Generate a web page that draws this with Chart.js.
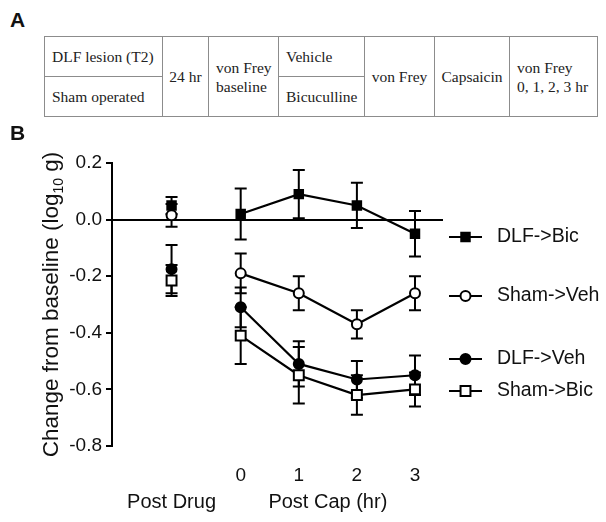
<!DOCTYPE html>
<html>
<head>
<meta charset="utf-8">
<script src="https://cdn.jsdelivr.net/npm/chart.js@4.4.1/dist/chart.umd.min.js"></script>
<style>
  body { margin: 0; background: #fff; width: 606px; height: 522px; overflow: hidden; position: relative;
         font-family: "Liberation Sans", Arial, sans-serif; }
  #wrap { position: absolute; left: 0; top: 120px; width: 606px; height: 402px; }
  .panel { position: absolute; font-weight: bold; font-size: 21px; color: #111; }
  #labelA { left: 10px; top: 8px; }
  #labelB { left: 10px; top: 121px; }
  table { position: absolute; left: 44px; top: 36px; width: 554px; height: 81px; table-layout: fixed;
          border-collapse: collapse; font-family: "Liberation Serif", "Times New Roman", serif;
          font-size: 15.5px; color: #222; }
  td { border: 1.5px solid #8c8c8c; padding: 0 7px; line-height: 19px; vertical-align: middle;
       white-space: nowrap; height: 39px; }
  td.c { text-align: center; padding: 0; }
</style>
</head>
<body>
<div id="wrap"><canvas id="chart" width="606" height="402"></canvas></div>
<div class="panel" id="labelA">A</div>
<div class="panel" id="labelB">B</div>
<table>
  <colgroup>
    <col style="width:118px"><col style="width:46px"><col style="width:70px"><col style="width:86px">
    <col style="width:70px"><col style="width:75px"><col style="width:88px">
  </colgroup>
  <tr>
    <td>DLF lesion (T2)</td>
    <td class="c" rowspan="2">24 hr</td>
    <td rowspan="2">von Frey<br>baseline</td>
    <td>Vehicle</td>
    <td class="c" rowspan="2">von Frey</td>
    <td class="c" rowspan="2">Capsaicin</td>
    <td rowspan="2">von Frey<br>0, 1, 2, 3 hr</td>
  </tr>
  <tr>
    <td>Sham operated</td>
    <td>Bicuculline</td>
  </tr>
</table>

<script>
// data
const categories = ['Post Drug', '0', '1', '2', '3'];
const xValues = [-1.19, 0, 1, 2, 3];   // Post Drug sits left of the time axis
const xTicks = [0, 1, 2, 3];
const yTicks = [0.2, 0.0, -0.2, -0.4, -0.6, -0.8];

const seriesNames = ['DLF->Bic', 'Sham->Veh', 'DLF->Veh', 'Sham->Bic'];
const dlfBic = [0.05, 0.02, 0.09, 0.05, -0.05];
const dlfBicErr = [0.03, 0.09, 0.085, 0.08, 0.08];
const shamVeh = [0.015, -0.19, -0.26, -0.37, -0.26];
const shamVehErr = [0.04, 0.07, 0.06, 0.05, 0.06];
const dlfVeh = [-0.175, -0.31, -0.51, -0.565, -0.55];
const dlfVehErr = [0.085, 0.07, 0.08, 0.065, 0.07];
const shamBic = [-0.215, -0.41, -0.55, -0.62, -0.60];
const shamBicErr = [0.055, 0.10, 0.10, 0.07, 0.06];

const values = [dlfBic, shamVeh, dlfVeh, shamBic];
const errors = [dlfBicErr, shamVehErr, dlfVehErr, shamBicErr];

// marker looks
const styles = [
  { pointStyle: 'rect', bg: '#000', r: 6 },
  { pointStyle: 'circle', bg: '#fff', r: 5 },
  { pointStyle: 'circle', bg: '#000', r: 5 },
  { pointStyle: 'rect', bg: '#fff', r: 7 }
];
const legendY = [117, 176, 239, 271];
const FONT = '"Liberation Sans", Arial, sans-serif';

const datasets = seriesNames.map((name, i) => ({
  label: name,
  data: values[i].map((v, j) => ({ x: xValues[j], y: v })),
  borderColor: '#000',
  borderWidth: 2.2,
  pointStyle: styles[i].pointStyle,
  pointRadius: styles[i].r,
  pointBackgroundColor: styles[i].bg,
  pointBorderColor: '#000',
  pointBorderWidth: 2,
  tension: 0,
  // no line between Post Drug and the 0 hr point
  segment: { borderColor: c => c.p0DataIndex === 0 ? 'rgba(0,0,0,0)' : '#000' }
}));

const errorBars = {
  id: 'errorBars',
  beforeDatasetsDraw(chart) {
    const { ctx } = chart;
    const y = chart.scales.y;
    ctx.save();
    ctx.strokeStyle = '#000';
    ctx.lineWidth = 2;
    chart.data.datasets.forEach((ds, di) => {
      const meta = chart.getDatasetMeta(di);
      errors[di].forEach((e, i) => {
        const pt = meta.data[i];
        const v = values[di][i];
        const top = y.getPixelForValue(v + e);
        const bot = y.getPixelForValue(v - e);
        ctx.beginPath();
        ctx.moveTo(pt.x, top); ctx.lineTo(pt.x, bot);
        ctx.moveTo(pt.x - 6, top); ctx.lineTo(pt.x + 6, top);
        ctx.moveTo(pt.x - 6, bot); ctx.lineTo(pt.x + 6, bot);
        ctx.stroke();
      });
    });
    ctx.restore();
  }
};

const extras = {
  id: 'extras',
  afterDraw(chart) {
    const { ctx } = chart;
    const x = chart.scales.x;
    const area = chart.chartArea;
    ctx.save();
    ctx.fillStyle = '#111';

    // legend on the right
    seriesNames.forEach((name, i) => {
      const ly = legendY[i];
      ctx.strokeStyle = '#000';
      ctx.lineWidth = 2.2;
      ctx.beginPath(); ctx.moveTo(449, ly); ctx.lineTo(482, ly); ctx.stroke();
      ctx.fillStyle = styles[i].bg;
      ctx.lineWidth = 2;
      Chart.helpers.drawPoint(ctx, { pointStyle: styles[i].pointStyle, radius: styles[i].r, rotation: 0, borderWidth: 2 }, 465.5, ly);
      ctx.fillStyle = '#111';
      ctx.font = '19.5px ' + FONT;
      ctx.textAlign = 'left';
      ctx.textBaseline = 'middle';
      ctx.fillText(name, 497, ly);
    });

    // group labels under the x axis
    ctx.font = '20px ' + FONT;
    ctx.textAlign = 'center';
    ctx.textBaseline = 'middle';
    ctx.fillText(categories[0], x.getPixelForValue(xValues[0]), 382);
    ctx.fillText('Post Cap (hr)', (x.getPixelForValue(xValues[1]) + x.getPixelForValue(xValues[4])) / 2, 382);

    // y title with subscript
    const big = '22.5px ' + FONT, small = '14px ' + FONT;
    const p1 = 'Change from baseline (log', p2 = '10', p3 = ' g)';
    ctx.font = big; const w1 = ctx.measureText(p1).width, w3 = ctx.measureText(p3).width;
    ctx.font = small; const w2 = ctx.measureText(p2).width;
    const total = w1 + w2 + w3;
    ctx.translate(58, (area.top + area.bottom) / 2);
    ctx.rotate(-Math.PI / 2);
    ctx.textAlign = 'left';
    ctx.textBaseline = 'alphabetic';
    let sx = -total / 2;
    ctx.font = big; ctx.fillText(p1, sx, 0); sx += w1;
    ctx.font = small; ctx.fillText(p2, sx, 5); sx += w2;
    ctx.font = big; ctx.fillText(p3, sx, 0);
    ctx.restore();
  }
};

new Chart(document.getElementById('chart'), {
  type: 'line',
  data: { datasets },
  options: {
    responsive: false,
    animation: false,
    layout: { padding: { left: 0, right: 163, top: 43, bottom: 0 } },
    plugins: { legend: { display: false }, tooltip: { enabled: false } },
    scales: {
      x: {
        type: 'linear',
        min: -2.215,
        max: 3.482,
        afterBuildTicks: s => { s.ticks = xTicks.map(v => ({ value: v })); },
        afterFit: s => { s.height = 76; },
        grid: { display: false, drawTicks: false },
        border: { display: false },
        ticks: { color: '#111', font: { size: 19, family: FONT }, padding: 18, callback: v => String(v) }
      },
      y: {
        min: -0.8,
        max: 0.2,
        afterBuildTicks: s => { s.ticks = yTicks.map(v => ({ value: v })); },
        afterFit: s => { s.width = 112; },
        grid: {
          color: c => (c.tick && Math.abs(c.tick.value) < 1e-9) ? '#000' : 'rgba(0,0,0,0)',
          lineWidth: 2,
          tickColor: '#000',
          tickLength: 6,
          tickWidth: 2
        },
        border: { display: true, color: '#000', width: 2 },
        ticks: { color: '#111', font: { size: 19, family: FONT }, padding: 4, callback: v => v.toFixed(1) }
      }
    }
  },
  plugins: [errorBars, extras]
});
</script>
</body>
</html>
